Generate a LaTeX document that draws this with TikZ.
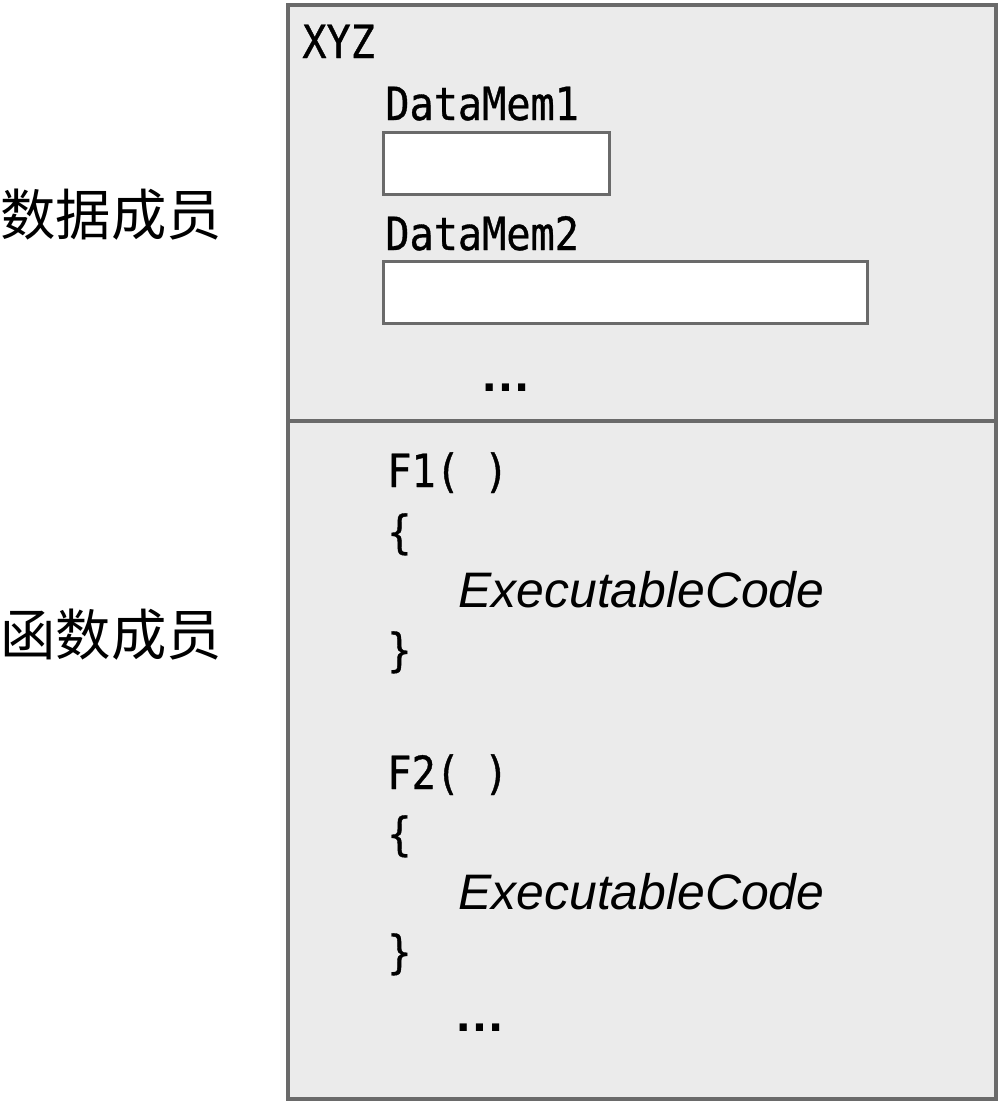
\documentclass[tikz,border=0pt]{standalone}
\usepackage{fontspec}
\usepackage{xcolor}
\usepackage{tikz}
\usetikzlibrary{positioning}

\newfontfamily\codefont[FakeStretch=0.88, FakeBold=0.8]{DejaVu Sans Mono}
\newfontfamily\bodyfont{Liberation Sans}
\newfontfamily\zhfont{Noto Sans CJK SC}

\definecolor{panelgray}{HTML}{EBEBEB}
\definecolor{edgegray}{HTML}{6A6A6A}

\begin{document}
\begin{tikzpicture}[x=0.02cm, y={(0,-0.02cm)},
    code/.style={font=\codefont\fontsize{26}{26}\selectfont, anchor=base west, inner sep=0pt},
    exec/.style={font=\bodyfont\itshape\fontsize{28.4}{28.4}\selectfont, anchor=base west, inner sep=0pt},
    dots/.style={font=\bodyfont\bfseries\fontsize{29}{29}\selectfont, anchor=base west, inner sep=0pt},
    zhlabel/.style={font=\zhfont\fontsize{31.5}{31.5}\selectfont, anchor=west, inner sep=0pt},
    field/.style={draw=edgegray, line width=1.7pt, fill=white}]
    % Fix the canvas to the reference size
    \useasboundingbox (0,0) rectangle (1000,1103);

    % Corners of the object panel
    \coordinate (NW) at (288,5);
    \coordinate (SE) at (996,1099);
    \coordinate (DL) at (288,421);
    \coordinate (DR) at (996,421);

    % Draw the object panel and the divider
    \draw[draw=edgegray, fill=panelgray, line width=2.4pt] (NW) rectangle (SE);
    \draw[draw=edgegray, line width=2.4pt] (DL) -- (DR);

    % Data members
    \node[code] (xyz) at (302,58) {XYZ};
    \node[code] (mem1) at (385,120) {DataMem1};
    \draw[field] (383.5,132.5) rectangle (609.5,194.5);
    \node[code] (mem2) at (385,250) {DataMem2};
    \draw[field] (383.5,261.5) rectangle (867.5,323.5);
    \node[dots] (more1) at (480,391) {…};

    % Function members
    \node[code] (f1) at (387,487) {F1( )};
    \node[code] (f1open) at (387,548) {\{};
    \node[exec] (f1body) at (458,607) {ExecutableCode};
    \node[code] (f1close) at (387,666) {\}};

    \node[code] (f2) at (387,789) {F2( )};
    \node[code] (f2open) at (387,850) {\{};
    \node[exec] (f2body) at (458,909) {ExecutableCode};
    \node[code] (f2close) at (387,968) {\}};
    \node[dots] (more2) at (454,1031) {…};

    % Side labels
    \node[zhlabel] (datalabel) at (0,215) {数据成员};
    \node[zhlabel] (funclabel) at (0,635) {函数成员};
\end{tikzpicture}
\end{document}
